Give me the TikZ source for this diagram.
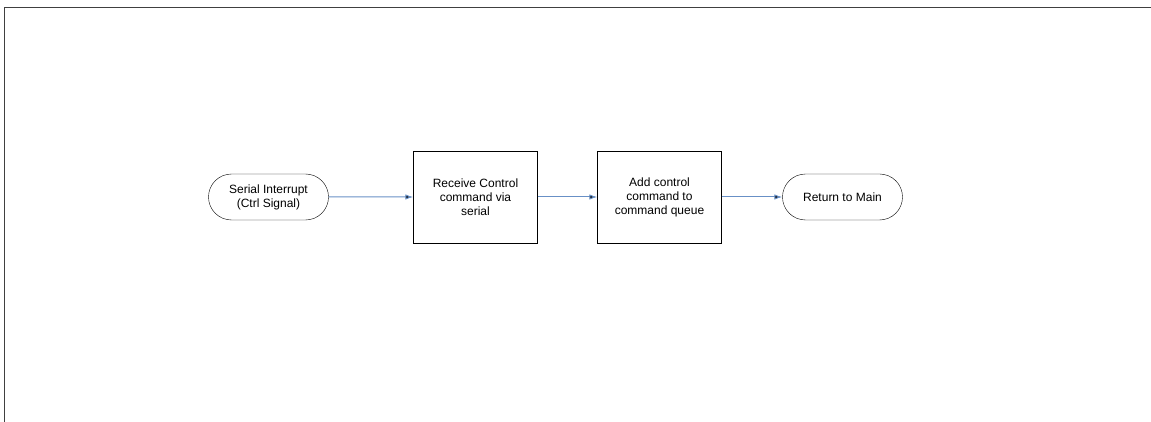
\documentclass[tikz,border=0pt]{standalone}
\usepackage{fontspec}
\setmainfont{Liberation Sans}
\usetikzlibrary{arrows.meta,shapes.misc}
\definecolor{flowblue}{RGB}{104,144,198}

\begin{document}
\begin{tikzpicture}[x=1pt,y=1pt,
    terminal/.style={shape=rounded rectangle,draw=black,minimum width=124pt,minimum height=46pt,inner sep=2pt,align=center,font=\fontsize{12}{14}\selectfont},
    process/.style={shape=rectangle,draw=black,minimum width=124pt,minimum height=92pt,align=center,font=\fontsize{12}{14}\selectfont},
    flow/.style={-{Latex[length=8pt,width=5.5pt]},draw=flowblue,line width=1pt}]

    \useasboundingbox (0,0) rectangle (1151,-422);
    \draw[line width=1.4pt,draw=black!75] (4.5,-422) -- (4.5,-7.5) -- (1151,-7.5);

    \node[terminal] (irq)  at (268.5,-197) {Serial Interrupt\\(Ctrl Signal)};
    \node[process]  (recv) at (475.5,-197) {Receive Control\\command via\\serial};
    \node[process]  (add)  at (659.5,-197) {Add control\\command to\\command queue};
    \node[terminal] (ret)  at (842.5,-197) {Return to Main};

    \path[flow] (irq) edge (recv);
    \path[flow] (recv) edge (add);
    \path[flow] (add) edge (ret);

\end{tikzpicture}
\end{document}
